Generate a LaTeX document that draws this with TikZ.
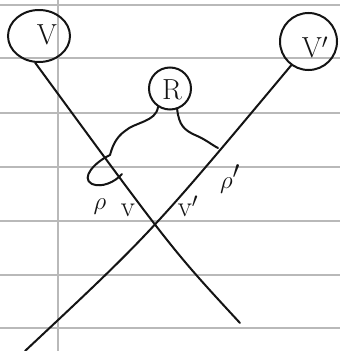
\documentclass[tikz,border=0pt]{standalone}
\usepackage{tikz}
\usetikzlibrary{shapes.geometric}
\definecolor{ink}{RGB}{20,20,20}
\definecolor{ruled}{RGB}{185,185,185}

\begin{document}
\begin{tikzpicture}[x=1pt, y=-1pt,
  font=\fontsize{29}{29}\selectfont,
  blob/.style={draw=ink, line width=2pt, circle, inner sep=0pt},
  wire/.style={draw=ink, line width=2pt, line cap=round},
  lab/.style={ink, inner sep=0pt},
  big/.style={font=\fontsize{36}{36}\selectfont},
  rule/.style={ruled, line width=1.2pt}]
  \useasboundingbox (0,0) rectangle (340,351);
  \fill[white] (0,0) rectangle (340,351);
  \foreach \y in {5,58,113,167,221,275,328}
    \draw[rule] (0,\y) -- (340,\y);
  \draw[rule] (58,0) -- (58,351);
  \node[blob, ellipse, minimum width=62pt, minimum height=52pt] (v) at (39,36) {};
  \node[blob, minimum size=57pt] (vp) at (308.5,41.5) {};
  \node[blob, minimum size=42pt] (r) at (170,88.5) {};
  \node[lab] (vl) at (47,35) {V};
  \node[lab] (vpl) at (315,47) {V$'$};
  \node[lab] (rl) at (172,90) {R};
  \coordinate (e1) at (240,323);
  \coordinate (e2) at (25,351);
  \coordinate (k1) at (172,249.5);
  \coordinate (k2) at (151,233);
  \draw[wire] (v.262) .. controls (k1) .. (e1);
  \draw[wire] (vp.234) .. controls (k2) .. (e2);
  \coordinate (p) at (110,155);
  \coordinate (q) at (218,148);
  \draw[wire] (r.237) .. controls (156,122) and (135,122) .. (125,131)
    .. controls (115,138) and (112,148) .. (p);
  \draw[wire] (r.289) .. controls (179,125) and (184,130) .. (195,135)
    .. controls (205,139) and (212,145) .. (q);
  \draw[wire] (p) .. controls (95,162) and (80,178) .. (92,184)
    .. controls (102,188) and (115,182) .. (122,174);
  \node[lab, big] (rho) at (100,207) {$\rho$};
  \node[lab] (vs) at (128,210) {v};
  \node[lab] (vps) at (188,206) {v$'$};
  \node[lab, big] (rhop) at (230,179) {$\rho'$};
\end{tikzpicture}
\end{document}
